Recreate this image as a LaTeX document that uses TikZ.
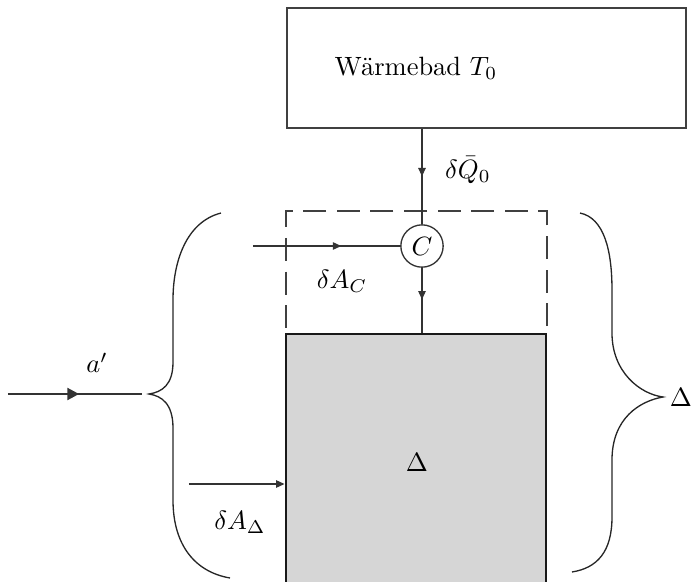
\documentclass[tikz,border=0pt]{standalone}
\usepackage{amsmath}
\usetikzlibrary{arrows.meta, decorations.markings, fit, calc}

\begin{document}
\begin{tikzpicture}[
  x=0.378pt, y=-0.378pt,
  >={Triangle[length=3.2pt,width=2.8pt]},
  ln/.style={black!80, line width=0.5pt},
  midarr/.style={ln, postaction={decorate},
                 decoration={markings, mark=at position #1 with {\arrow{>}}}},
  midarr/.default=0.5,
  bigarr/.style={ln, postaction={decorate},
                 decoration={markings, mark=at position #1 with
                 {\arrow{Triangle[length=4.4pt,width=4.6pt]}}}},
  bigarr/.default=0.5,
  box/.style={draw=black!75, line width=0.5pt, inner sep=0pt},
  ctrlbox/.style={draw=black!75, line width=0.5pt, inner sep=0pt,
                  dash pattern=on 8.7pt off 4pt},
  sysbox/.style={draw=black!90, line width=1.1pt, fill=black!16, inner sep=0pt},
  cnode/.style={circle, draw=black!80, line width=0.5pt, fill=white,
                minimum size=16pt, inner sep=0pt},
  brace/.style={black!85, line width=0.5pt},
  lab/.style={inner sep=1pt}
]
\useasboundingbox (0,0) rectangle (691,582);
\clip (0,0) rectangle (691,582);

% heat bath
\node[box, fit={(287,8) (686,128)}] (bath) {};
\node[lab] (bathtxt) at (416,68) {Wärmebad $T_0$};

% control region and system
\node[ctrlbox, fit={(286,211) (547,334)}] (ctrl) {};
\node[sysbox, fit={(286,334) (546,620)}] (sys) {};
\node[lab] (systxt) at (417,462) {$\Delta$};

\node[cnode] (C) at (422,246) {$C$};

% free ends
\coordinate (acin) at (253,246);
\coordinate (ain) at (8,394);
\coordinate (atip) at (142,394);
\coordinate (adin) at (189,484);

\draw[midarr=0.5] (C |- bath.south) -- (C.north);
\draw[midarr=0.6] (acin) -- (C.west);
\draw[midarr=0.49] (C.south) -- (C |- sys.north);
\draw[bigarr=0.53] (ain) -- (atip);
\draw[ln, ->] (adin) -- (adin -| sys.west);

% labels
\node[lab] (lq) at (468,170) {$\delta\bar{Q}_0$};
\node[lab] (lac) at (342,281) {$\delta A_C$};
\node[lab] (lap) at (97,363) {$a'$};
\node[lab] (lad) at (240,522) {$\delta A_\Delta$};
\node[lab] (ldr) at (681,397) {$\Delta$};

% braces
\draw[brace] (221,213) .. controls (186,222) and (173,262) .. (173,300)
  -- (173,362) .. controls (173,385) and (162,392) .. (149,394)
  .. controls (162,396) and (173,404) .. (173,428)
  -- (173,500) .. controls (173,545) and (195,572) .. (230,578);
\draw[brace] (580,213) .. controls (604,218) and (612,250) .. (612,290)
  -- (612,333) .. controls (612,372) and (640,394) .. (663,397)
  .. controls (640,401) and (612,418) .. (612,460)
  -- (612,517) .. controls (612,552) and (597,568) .. (572,572);

\end{tikzpicture}
\end{document}
